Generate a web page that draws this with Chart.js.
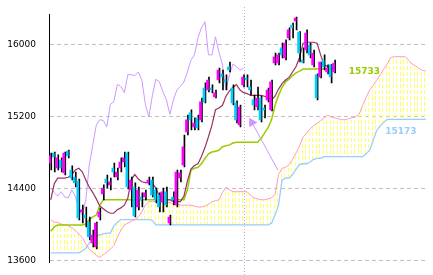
<!DOCTYPE html>
<html><head><meta charset="utf-8">
<script src="https://cdn.jsdelivr.net/npm/chart.js@4.4.1/dist/chart.umd.min.js"></script>
<style>html,body{margin:0;padding:0;background:#fff;}canvas{display:block;}</style>
</head><body>
<canvas id="c" width="433" height="275"></canvas>
<script>
// ---- data ----
const yTicks = [13600, 14400, 15200, 16000];

const candleOpen = [14689,14800,14633,14722,14578,14822,14611,14533,14489,14145,
 14111,14033,13800,13756,14089,14345,14511,14445,14633,14533,
 14633,14700,14800,14389,14422,14200,14311,14311,14467,14500,
 14389,14333,14256,14367,14022,14311,14222,14522,14667,15033,
 15245,15089,15189,15167,15522,15500,15522,15422,15611,15678,
 15611,15756,15522,15356,15111,15556,15633,15533,15389,15311,
 15411,15300,15389,15278,15800,15800,15967,15856,16078,16222,
 16267,16144,15833,15944,16000,15778,15667,15644,15833,15700,
 15778,15700];
const candleHigh = [14800,14811,14778,14745,14811,14833,14656,14589,14511,14222,
 14200,14089,13944,14033,14189,14445,14555,14522,14689,14633,
 14745,14811,14811,14533,14467,14422,14356,14389,14533,14533,
 14411,14356,14411,14422,14111,14367,14611,14611,15000,15222,
 15278,15189,15222,15411,15578,15644,15556,15500,15744,15722,
 15667,15811,15556,15378,15333,15667,15667,15611,15444,15533,
 15433,15333,15522,15611,15911,15911,16022,16056,16189,16244,
 16311,16150,15967,16167,16022,15944,15680,15811,15889,15778,
 15785,15833];
const candleLow = [14611,14589,14611,14589,14555,14745,14500,14422,14056,14022,
 13978,13833,13756,13734,14056,14278,14411,14389,14533,14500,
 14589,14644,14400,14200,14089,14167,14200,14278,14445,14311,
 14245,14145,14145,14200,14000,14222,14200,14478,14644,15000,
 15056,15056,15056,15144,15356,15478,15467,15411,15578,15500,
 15500,15700,15333,15133,15089,15533,15533,15444,15278,15278,
 15144,15189,15367,15267,15778,15778,15856,15833,16056,16078,
 16167,15811,15800,15911,15856,15756,15389,15633,15722,15678,
 15578,15690];
const candleClose = [14767,14756,14745,14633,14800,14767,14522,14467,14078,14167,
 14078,13867,13889,14022,14145,14411,14467,14478,14589,14589,
 14700,14745,14422,14500,14100,14389,14278,14356,14500,14333,
 14278,14200,14367,14222,14089,14278,14589,14578,14867,15167,
 15167,15133,15078,15367,15367,15611,15500,15467,15722,15644,
 15589,15722,15356,15167,15311,15644,15611,15500,15333,15411,
 15167,15278,15500,15589,15867,15889,15889,16022,16167,16189,
 16300,15911,15810,16133,15889,15911,15411,15811,15756,15744,
 15644,15800];

const tenkan = [14280,14460,14520,14520,14520,14530,14560,14610,14630,14590,
 14500,14420,14360,14290,14210,14180,14150,14130,14130,14170,
 14190,14220,14300,14510,14560,14510,14480,14470,14470,14460,
 14410,14320,14280,14280,14280,14260,14260,14260,14320,14490,
 14620,14660,14680,14760,14860,14980,15110,15280,15300,15330,
 15430,15490,15530,15560,15500,15470,15460,15440,15440,15440,
 15440,15430,15410,15390,15430,15510,15570,15610,15640,15700,
 15760,15860,16020,16030,16030,16030,16020,15890,15780,15760,
 15740,15740];
const kijun = [13930,13980,14000,14000,14000,14000,14000,14000,14000,14000,
 14010,14060,14090,14110,14220,14280,14280,14280,14280,14280,
 14280,14280,14280,14280,14280,14280,14280,14280,14280,14280,
 14280,14280,14280,14280,14280,14280,14280,14280,14280,14390,
 14610,14630,14640,14680,14740,14790,14810,14820,14830,14870,
 14880,14890,14910,14920,14920,14920,14920,14920,14920,14920,
 14960,15020,15080,15170,15330,15440,15530,15590,15620,15660,
 15690,15710,15733,15733,15733,15733,15733,15733,15733,15733,
 15733,15733];
const chikou = [14410,14360,14320,14370,14310,14300,14390,14320,14170,14110,
 14280,14670,14890,15110,15170,15160,15090,15340,15370,15560,
 15540,15470,15670,15670,15660,15700,15610,15340,15200,15440,
 15620,15590,15480,15390,15230,15390,15500,15540,15590,15700,
 15830,15890,16080,16190,16260,15890,15890,16090,15920,15780,
 15500,15670,15790,15760,15720,15740];
const spanA = [14060,14030,14030,14010,14000,13990,13970,13940,13900,13860,
 13790,13730,13700,13660,13640,13670,13700,13730,13770,13860,
 13940,14000,14020,14040,14060,14090,14150,14220,14260,14260,
 14260,14260,14250,14250,14250,14230,14230,14220,14220,14220,
 14220,14210,14200,14200,14210,14230,14260,14270,14280,14360,
 14420,14390,14370,14370,14370,14370,14370,14330,14300,14290,
 14280,14280,14290,14300,14340,14560,14630,14640,14670,14730,
 14800,14880,14980,15020,15070,15100,15130,15160,15190,15220,
 15200,15190,15180,15170,15170,15180,15190,15200,15230,15330,
 15420,15500,15550,15610,15670,15730,15790,15860,15870,15870,
 15870,15870,15840,15790,15770,15740,15720,15710];
const spanB = [13690,13690,13690,13690,13690,13690,13690,13690,13690,13710,
 13740,13800,13840,13880,13890,13900,13910,13910,13990,14030,
 14060,14060,14060,14060,14060,14060,14060,14060,14060,14050,
 14000,14000,14000,14000,14000,14000,14000,14000,14000,14000,
 14000,14000,14000,14000,14000,14000,14000,14000,14000,14000,
 14000,14000,14000,14000,14000,14000,14000,14000,14000,14000,
 14000,14000,14000,14020,14110,14220,14500,14520,14520,14560,
 14620,14670,14680,14680,14700,14730,14740,14740,14760,14760,
 14760,14760,14760,14760,14760,14760,14760,14760,14760,14760,
 14790,14830,14940,15050,15100,15140,15173,15173,15173,15173,
 15173,15173,15173,15173,15173,15173,15173,15173];
// arrow marker (index, price) pointing into the cloud
const pointerIdx = [57.4, 64.8];
const pointerVal = [15139, 14611];

// ---- helpers ----
const pts = arr => arr.map((v, i) => ({x: i, y: v}));
const UP = '#ff00ff', DOWN = '#00ccff';

function hatchPattern() {
  const c = document.createElement('canvas');
  c.width = 7; c.height = 6;
  const g = c.getContext('2d');
  g.fillStyle = '#ffff66';
  g.fillRect(1, 0, 1, 4);
  g.fillRect(4, 0, 1, 4);
  return g.createPattern(c, 'repeat');
}

const overlay = {
  id: 'overlay',
  beforeDatasetsDraw(chart) {
    const {ctx, scales: {x}} = chart;
    const px = Math.round(x.getPixelForValue(chikou.length - 1)) + 0.5;
    ctx.save();
    ctx.strokeStyle = '#c9a3ee';
    ctx.lineWidth = 1;
    ctx.setLineDash([1, 2]);
    ctx.beginPath(); ctx.moveTo(px, 7); ctx.lineTo(px, 275); ctx.stroke();
    ctx.restore();
  },
  afterDatasetsDraw(chart) {
    const {ctx, scales: {x, y}} = chart;
    ctx.save();
    ctx.font = 'bold 9px "DejaVu Sans"';
    ctx.textBaseline = 'middle';
    const k = kijun[kijun.length - 1];
    ctx.fillStyle = '#99cc00';
    ctx.textAlign = 'left';
    ctx.fillText(String(k), x.getPixelForValue(85), y.getPixelForValue(k) + 2.5);
    const b = spanB[spanB.length - 1];
    ctx.fillStyle = '#99ccff';
    ctx.textAlign = 'right';
    ctx.fillText(String(b), x.getPixelForValue(104.4), y.getPixelForValue(b) + 12);
    ctx.restore();
  }
};

const lineDs = (label, data, color, w, order, extra) => Object.assign({
  type: 'line', label, data: pts(data), borderColor: color, borderWidth: w,
  pointRadius: 0, tension: 0, fill: false, order
}, extra || {});

new Chart(document.getElementById('c'), {
  type: 'bar',
  data: {
    datasets: [
      { type: 'bar', label: 'body',
        data: candleOpen.map((o, i) => ({x: i, y: [o, candleClose[i]]})),
        backgroundColor: candleOpen.map((o, i) => candleClose[i] >= o ? UP : DOWN),
        borderWidth: 0, barThickness: 2, order: 0 },
      { type: 'bar', label: 'wick',
        data: candleLow.map((l, i) => ({x: i, y: [l, candleHigh[i]]})),
        backgroundColor: '#000000', borderWidth: 0, barThickness: 1, order: 1 },
      lineDs('tenkan', tenkan, '#993366', 1.2, 2),
      lineDs('kijun', kijun, '#99cc00', 1.5, 3),
      lineDs('chikou', chikou, '#cc99ff', 1, 4),
      { type: 'line', label: 'pointer',
        data: pointerIdx.map((p, i) => ({x: p, y: pointerVal[i]})),
        borderColor: '#cc99ff', borderWidth: 1, tension: 0, fill: false,
        pointStyle: 'triangle', pointRotation: 90,
        pointRadius: [5.5, 0], pointBackgroundColor: '#cc99ff', pointBorderWidth: 0,
        order: 5 },
      lineDs('spanA', spanA, '#ff99cc', 1, 6, {fill: '+1', backgroundColor: hatchPattern()}),
      lineDs('spanB', spanB, '#99ccff', 1.3, 7),
    ]
  },
  options: {
    responsive: false,
    animation: false,
    events: [],
    layout: { padding: { left: 0, right: 4.5, top: 14, bottom: 12.5 } },
    plugins: { legend: { display: false }, tooltip: { enabled: false },
               filler: { drawTime: 'beforeDatasetsDraw' } },
    scales: {
      x: { type: 'linear', min: -0.5, max: 107.5, display: false, offset: false },
      y: {
        min: 13583, max: 16344,
        afterBuildTicks: s => { s.ticks = yTicks.map(v => ({value: v})); },
        afterFit: s => { s.width = 49; s.paddingTop = 0; s.paddingBottom = 0; },
        grid: { color: '#c0c0c0', lineWidth: 1, drawTicks: false },
        border: { display: true, color: '#000000', width: 1, dash: [4, 3] },
        ticks: { color: '#000000', padding: 13, font: { family: 'DejaVu Sans', size: 9 },
                 callback: v => String(v) }
      }
    }
  },
  plugins: [overlay]
});
</script>
</body></html>
